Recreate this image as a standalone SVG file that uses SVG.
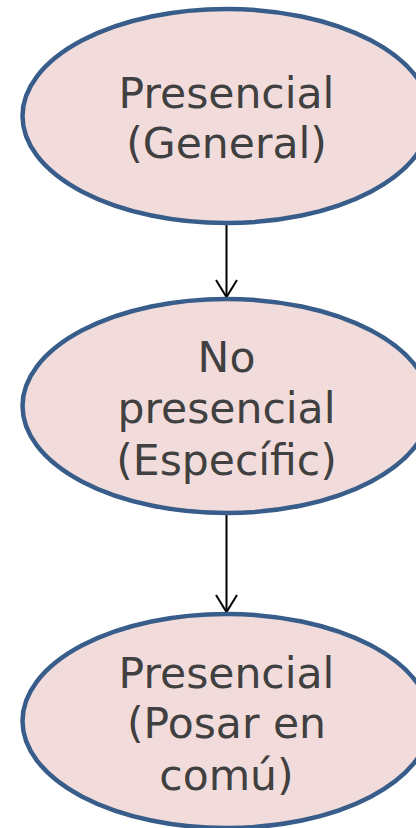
<svg xmlns="http://www.w3.org/2000/svg" width="416" height="828" viewBox="0 0 416 828">
<style>
.node ellipse{fill:#f2dcdb;stroke:#385d8a;stroke-width:4.5}
.node text{font-family:"DejaVu Sans",Verdana,sans-serif;font-size:42.5px;fill:#404040;text-anchor:middle}
.conn line{stroke:#000;stroke-width:2}
.conn path{fill:none;stroke:#000;stroke-width:2}
</style>
<rect width="416" height="828" fill="#fff"/>
<g id="connectors" class="conn">
<line x1="226.5" y1="224" x2="226.5" y2="297"/>
<path d="M216 280 L226.5 297 L237 280"/>
<line x1="226.5" y1="514" x2="226.5" y2="612"/>
<path d="M216 595 L226.5 612 L237 595"/>
</g>
<g id="node1" class="node">
<ellipse cx="226.5" cy="116" rx="204" ry="107"/>
<text x="226.5" y="108">Presencial</text>
<text x="226.5" y="158">(General)</text>
</g>
<g id="node2" class="node">
<ellipse cx="226.5" cy="406" rx="204" ry="107"/>
<text x="226.5" y="372">No</text>
<text x="226.5" y="423">presencial</text>
<text x="226.5" y="475">(Específic)</text>
</g>
<g id="node3" class="node">
<ellipse cx="226.5" cy="721" rx="204" ry="107"/>
<text x="226.5" y="688">Presencial</text>
<text x="226.5" y="738">(Posar en</text>
<text x="226.5" y="790">comú)</text>
</g>
</svg>
